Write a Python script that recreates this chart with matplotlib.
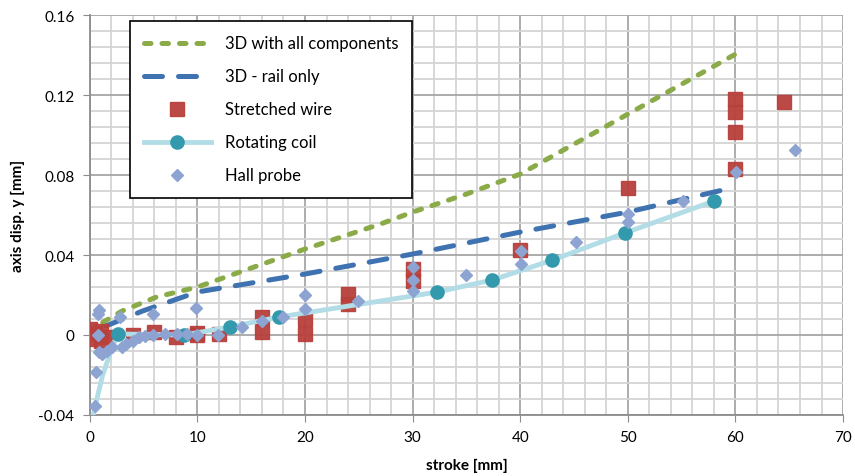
import matplotlib.pyplot as plt
from matplotlib.ticker import MultipleLocator, FixedLocator
import numpy as np

plt.rcParams['font.family'] = ['Lato', 'DejaVu Sans']

# 3D model curves
x_all = [1.2, 3, 6.2, 10, 20, 27, 30, 35, 40, 45, 50, 55, 60]
y_all = [0.0063, 0.012, 0.019, 0.024, 0.043, 0.0555, 0.0615, 0.0705, 0.0805,
         0.0955, 0.1105, 0.1255, 0.1405]

x_rail = [1.5, 4.9, 10, 20, 30, 40, 50, 60]
y_rail = [0.0045, 0.012, 0.0215, 0.0305, 0.0405, 0.0515, 0.0615, 0.074]

# stretched wire
x_wire = [0, 0, 0.5, 1, 1.5, 1, 4, 6, 8, 10, 10, 12, 16, 16, 20, 20,
          24, 24, 30, 30, 40, 50, 60, 60, 60, 60, 64.5]
y_wire = [0.003, -0.002, 0.001, 0.002, -0.001, -0.003, 0, 0.0015, -0.001, 0, 0.001,
          0.0005, 0.009, 0.0015, 0.008, 0.0005, 0.0205, 0.0155, 0.033, 0.027,
          0.0425, 0.0735, 0.118, 0.1115, 0.1015, 0.083, 0.1165]

# rotating coil (line goes through extra points, markers only on measured ones)
x_coil = [0.3, 1.2, 2.1, 2.6, 8.8, 13, 17.6, 32.3, 37.4, 43, 49.7, 58]
y_coil = [-0.04, -0.02, -0.006, 0.0005, 0, 0.004, 0.009, 0.0215, 0.0275, 0.0375, 0.051, 0.067]
coil_marks = [3, 4, 5, 6, 7, 8, 9, 10, 11]

# hall probe
x_hall = [0.5, 0.6, 0.9, 0.8, 0.8, 0.9, 1.1, 1.6, 2.1, 3.0, 3.4, 4.0, 4.6, 5.1,
          2.8, 5.9, 5.9, 7.0, 8.1, 9.0, 9.9, 10, 11.9, 14.1, 16, 18, 20, 20,
          24.9, 30, 30, 30, 35, 40.1, 40.1, 45.2, 50, 50, 55.1, 60.1, 65.5]
y_hall = [-0.0355, -0.0185, 0.0125, 0.0105, 0, -0.0085, -0.0095, -0.008, -0.006,
          -0.006, -0.0045, -0.003, -0.001, -0.0005, 0.009, 0.0105, 0, 0.0005,
          0.0005, 0.0005, 0.0135, 0, 0, 0.004, 0.007, 0.009, 0.020, 0.013,
          0.017, 0.034, 0.0275, 0.022, 0.030, 0.042, 0.0355, 0.0465, 0.0605,
          0.0565, 0.067, 0.0815, 0.0925]

fig = plt.figure(figsize=(8.55, 4.77), dpi=100)
ax = fig.add_axes([0.105, 0.128, 0.881, 0.838])

ax.plot(x_all, y_all, color='#8AAB47', lw=3.6, dashes=(1.3, 2.2),
        dash_capstyle='round', label='3D with all components', zorder=3)
ax.plot(x_rail, y_rail, color='#3F72B0', lw=3.6, dashes=(3.6, 3.2),
        dash_capstyle='round', label='3D - rail only', zorder=3)
ax.plot(x_wire, y_wire, ls='none', marker='s', ms=10, color='#B8403C',
        alpha=0.95, label='Stretched wire', zorder=4)
ax.plot(x_coil, y_coil, color='#B3DDE6', lw=3.5, marker='o', ms=9.5,
        markerfacecolor='#3399AD', markeredgecolor='#3399AD',
        markevery=coil_marks, label='Rotating coil', zorder=5)
ax.plot(x_hall, y_hall, ls='none', marker='D', ms=6.5, color='#8DA3D1',
        label='Hall probe', zorder=6)

ax.set_xlim(0, 70)
ax.set_ylim(-0.04, 0.16)
ax.xaxis.set_major_locator(MultipleLocator(10))
ax.xaxis.set_minor_locator(MultipleLocator(2))
ax.yaxis.set_major_locator(FixedLocator([-0.04, 0, 0.04, 0.08, 0.12, 0.16]))
ax.yaxis.set_minor_locator(MultipleLocator(0.008))
ax.set_yticklabels(['-0.04', '0', '0.04', '0.08', '0.12', '0.16'])

ax.grid(which='major', color='#A6A6A6', lw=1.3)
ax.grid(which='minor', color='#D4D4D4', lw=1.3)
ax.set_axisbelow(True)
ax.tick_params(which='major', direction='out', length=5, color='#8C8C8C',
               labelsize=11, pad=6)
ax.tick_params(which='minor', length=0)
for side in ['top', 'right']:
    ax.spines[side].set_visible(False)
for side in ['left', 'bottom']:
    ax.spines[side].set_color('#8C8C8C')
    ax.spines[side].set_linewidth(1.3)

ax.set_xlabel('stroke [mm]', fontsize=11, fontweight='bold', labelpad=10)
ax.set_ylabel('axis disp. y [mm]', fontsize=11, fontweight='bold', labelpad=10)

leg = ax.legend(loc='upper left', bbox_to_anchor=(0.053, 0.985), fontsize=12,
                frameon=True, fancybox=False, edgecolor='black', framealpha=1,
                handlelength=4.0, labelspacing=1.02, borderpad=0.85,
                borderaxespad=0, handletextpad=0.85)
leg.get_frame().set_linewidth(1.2)
leg.set_zorder(10)

fig.savefig('out.png', dpi=100)
